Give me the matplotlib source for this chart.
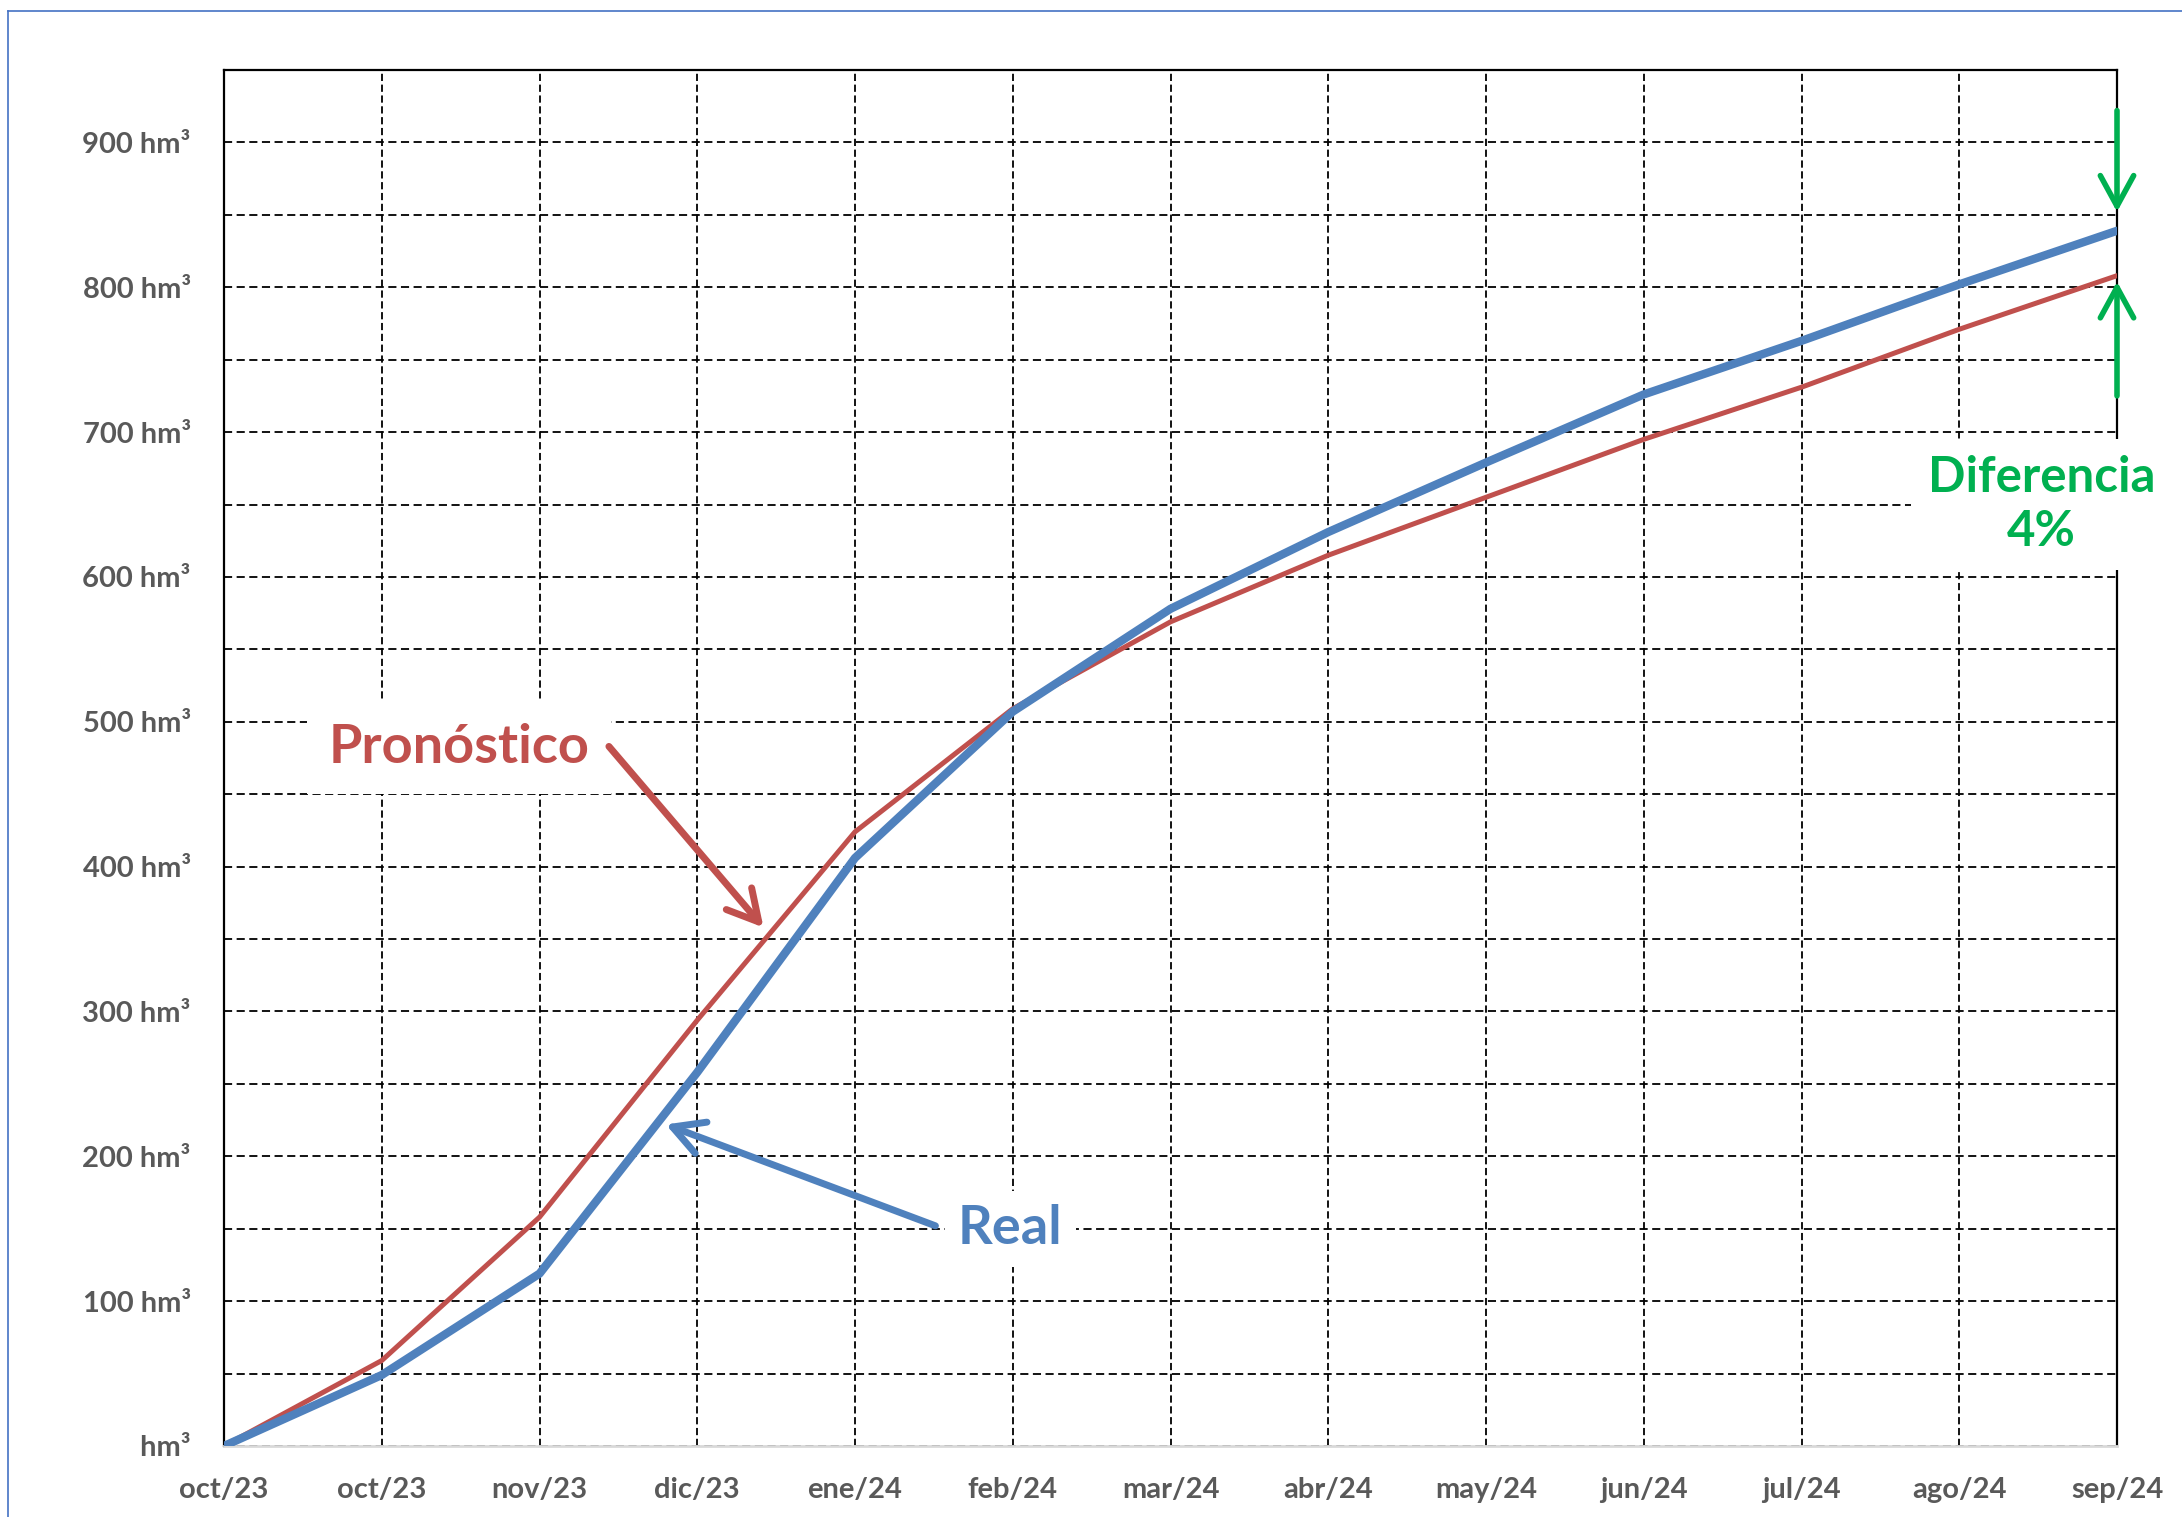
import numpy as np
import matplotlib
matplotlib.use('Agg')
import matplotlib.pyplot as plt
from matplotlib.lines import Line2D

plt.rcParams['font.family'] = ['Lato', 'DejaVu Sans']

# datos (hm³ acumulados)
meses = ['oct/23', 'oct/23', 'nov/23', 'dic/23', 'ene/24', 'feb/24', 'mar/24',
         'abr/24', 'may/24', 'jun/24', 'jul/24', 'ago/24', 'sep/24']
real = [0, 49, 119, 258, 406, 507, 578, 631, 679, 726, 763, 802, 839]
pronostico = [0, 59, 158, 294, 424, 509, 569, 615, 655, 695, 731, 771, 808]
y_ticks = [0, 100, 200, 300, 400, 500, 600, 700, 800, 900]
y_labels = [' hm³', '100 hm³', '200 hm³', '300 hm³', '400 hm³', '500 hm³',
            '600 hm³', '700 hm³', '800 hm³', '900 hm³']

azul = '#4F81BD'
rojo = '#C0504D'
verde = '#00B050'
gris = '#595959'

fig = plt.figure(figsize=(21.82, 15.17), dpi=100)
ax = fig.add_axes([224/2182, 1 - 1446/1517, (2117-224)/2182, (1446-70)/1517])

x = np.arange(len(meses))
ax.plot(x, pronostico, color=rojo, lw=3.6, zorder=3, solid_capstyle='round')
ax.plot(x, real, color=azul, lw=6, zorder=4, solid_capstyle='round')

ax.set_xlim(0, len(meses) - 1)
ax.set_ylim(0, 950)
ax.set_xticks(x)
ax.set_xticklabels(meses)
ax.set_yticks(y_ticks)
ax.set_yticklabels(y_labels)
ax.set_yticks(np.arange(50, 950, 100), minor=True)
ax.tick_params(axis='both', which='both', length=0, labelsize=21, labelcolor=gris)
ax.tick_params(axis='x', pad=22)
ax.tick_params(axis='y', pad=24)
for lab in ax.get_xticklabels() + ax.get_yticklabels():
    lab.set_fontweight('bold')

# rejilla punteada
ax.grid(True, which='both', axis='y', color='black', lw=1.3, ls=(0, (4.5, 2.5)), zorder=1)
ax.grid(True, which='major', axis='x', color='black', lw=1.3, ls=(0, (4, 2)), zorder=1)

for s in ['left', 'top', 'right']:
    ax.spines[s].set_color('black')
    ax.spines[s].set_linewidth(1.6)
ax.spines['bottom'].set_color('#D9D9D9')
ax.spines['bottom'].set_linewidth(2)

flecha = '->,head_length=1.1,head_width=0.6'

# etiquetas con flechas
ax.text(1.49, 482, 'Pronóstico', fontsize=39, fontweight='bold', color=rojo,
        ha='center', va='center', zorder=6,
        bbox=dict(boxstyle='square,pad=0.4', fc='white', ec='none'))
ax.annotate('', xy=(3.42, 358), xytext=(2.44, 483),
            arrowprops=dict(arrowstyle=flecha, mutation_scale=20, color=rojo,
                            lw=5, shrinkA=0, shrinkB=0), zorder=6)
ax.text(4.985, 150, 'Real', fontsize=39, fontweight='bold', color=azul,
        ha='center', va='center', zorder=6,
        bbox=dict(boxstyle='square,pad=0.25', fc='white', ec='none'))
ax.annotate('', xy=(2.80, 222), xytext=(4.51, 152),
            arrowprops=dict(arrowstyle=flecha, mutation_scale=20, color=azul,
                            lw=5, shrinkA=0, shrinkB=0), zorder=6)

# diferencia final
ax.annotate('', xy=(12, 852), xytext=(12, 922),
            arrowprops=dict(arrowstyle=flecha, mutation_scale=20, color=verde,
                            lw=4, shrinkA=0, shrinkB=0),
            annotation_clip=False, zorder=6)
ax.annotate('', xy=(12, 804), xytext=(12, 725),
            arrowprops=dict(arrowstyle=flecha, mutation_scale=20, color=verde,
                            lw=4, shrinkA=0, shrinkB=0),
            annotation_clip=False, zorder=6)
ax.text(11.52, 650, 'Diferencia\n4%', fontsize=35.5, fontweight='bold', color=verde,
        ha='center', va='center', linespacing=1.25, zorder=7, clip_on=False,
        bbox=dict(boxstyle='square,pad=0.33', fc='white', ec='none'))

# borde del gráfico
fig.add_artist(Line2D([8/2182, 8/2182], [0, 1 - 11/1517], color='#4472C4', lw=1.2))
fig.add_artist(Line2D([8/2182, 1], [1 - 11/1517, 1 - 11/1517], color='#4472C4', lw=1.2))

fig.savefig('out.png', dpi=100, facecolor='white')
